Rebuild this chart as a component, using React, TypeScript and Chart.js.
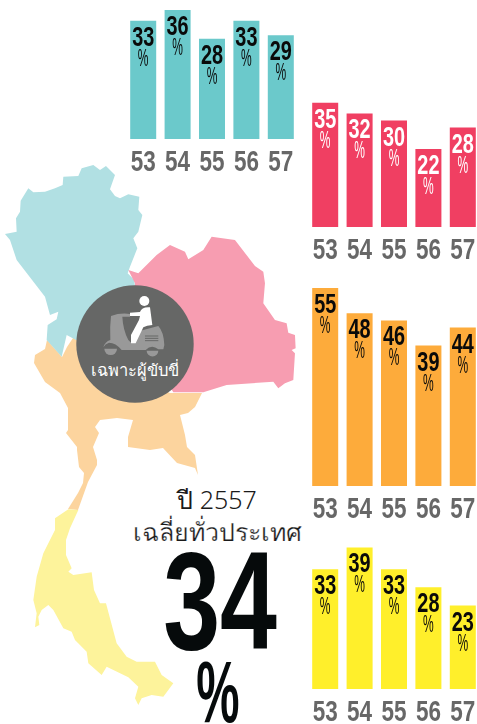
import React, { useEffect, useRef } from "react";
import { Chart, registerables } from "chart.js";

Chart.register(...registerables);

const years = ["53", "54", "55", "56", "57"];
const northValues = [33, 36, 28, 33, 29];
const northeastValues = [35, 32, 30, 22, 28];
const centralValues = [55, 48, 46, 39, 44];
const southValues = [33, 39, 33, 28, 23];
const nationalAverage = "34";

const narrow = '"Liberation Sans", Arial, sans-serif';
const thai = '"Noto Sans", "DejaVu Sans", sans-serif';

const valueLabels = {
  id: "valueLabels",
  afterDatasetsDraw(chart: any) {
    const color = chart.options.plugins.valueLabels.color;
    const { ctx } = chart;
    const meta = chart.getDatasetMeta(0);
    const xScale = chart.scales.x;
    const bottom = chart.chartArea.bottom;
    ctx.save();
    ctx.textAlign = "center";
    ctx.textBaseline = "alphabetic";
    meta.data.forEach((bar: any, i: number) => {
      const v = chart.data.datasets[0].data[i];
      ctx.fillStyle = color;
      ctx.save();
      ctx.translate(bar.x, bar.y + 25);
      ctx.scale(0.71, 1);
      ctx.font = `bold 28px ${narrow}`;
      ctx.fillText(String(v), 0, 0);
      ctx.restore();
      ctx.save();
      ctx.translate(bar.x, bar.y + 45);
      ctx.scale(0.5, 1);
      ctx.font = `24px ${narrow}`;
      ctx.fillText("%", 0, 0);
      ctx.restore();
    });
    xScale.ticks.forEach((t: any, i: number) => {
      ctx.save();
      ctx.translate(xScale.getPixelForTick(i), bottom + 32);
      ctx.scale(0.75, 1);
      ctx.fillStyle = "#676767";
      ctx.font = `bold 30px ${narrow}`;
      ctx.fillText(t.label, 0, 0);
      ctx.restore();
    });
    ctx.restore();
  },
};

function Bars(props: {
  values: number[]; color: string; labelColor: string; left: number; bottom: number;
  plotHeight: number; pxPerUnit: number;
}) {
  const ref = useRef<HTMLCanvasElement>(null);
  const axisHeight = 36;
  useEffect(() => {
    const chart = new Chart(ref.current!, {
      type: "bar",
      data: {
        labels: years,
        datasets: [{
          data: props.values,
          backgroundColor: props.color,
          barPercentage: 1,
          categoryPercentage: 0.756,
        }],
      },
      plugins: [valueLabels],
      options: {
        animation: false,
        responsive: false,
        maintainAspectRatio: false,
        layout: { padding: 0, autoPadding: false },
        plugins: {
          legend: { display: false },
          tooltip: { enabled: false },
          valueLabels: { color: props.labelColor },
        } as any,
        scales: {
          x: {
            grid: { display: false, drawTicks: false },
            border: { display: false },
            afterFit: (a: any) => { a.height = axisHeight; },
            ticks: { display: false, autoSkip: false, maxRotation: 0 },
          },
          y: {
            display: false,
            min: 0,
            max: props.plotHeight / props.pxPerUnit,
          },
        },
      } as any,
    });
    return () => chart.destroy();
  }, []);
  return (
    <canvas
      ref={ref}
      width={172}
      height={props.plotHeight + axisHeight}
      style={{
        position: "absolute",
        left: props.left,
        top: props.bottom - props.plotHeight,
        width: 172,
        height: props.plotHeight + axisHeight,
      }}
    />
  );
}

function Txt(props: { x: number; y: number; size: number; family: string; weight?: number; color: string; sx?: number; thin?: string; children: string }) {
  return (
    <div
      style={{
        position: "absolute",
        left: props.x,
        top: props.y,
        fontFamily: props.family,
        fontSize: props.size,
        fontWeight: props.weight ?? 400,
        color: props.color,
        lineHeight: 1,
        whiteSpace: "nowrap",
        transform: `translateX(-50%) scaleX(${props.sx ?? 1})`,
        WebkitTextStroke: props.thin ? `0.25px ${props.thin}` : undefined,
      }}
    >
      {props.children}
    </div>
  );
}

const tealMap = "15,222 50,215 48,175 60,155 62,122 85,85 100,97 135,95 165,85 188,75 190,50 235,48 245,25 280,15 300,30 318,18 345,45 330,88 345,108 360,115 385,103 418,110 415,150 427,165 415,215 400,235 412,265 390,320 383,340 403,360 405,380 300,550 228,540 200,525 185,590 140,540 143,495 170,478 175,455 150,465 135,410 50,300 30,240";
const pinkMap = "385,330 415,340 470,285 510,255 555,275 565,298 610,270 635,230 705,240 765,318 790,335 795,370 790,430 825,480 860,490 865,518 885,525 887,565 875,570 885,580 880,660 855,670 835,685 820,665 680,675 610,697 520,697 400,500 405,370";
const orangeMap = "47,340 45,349 35,355 34,363 45,382 60,393 68,408 68,430 66,433 77,447 77,450 79,467 84,473 83,483 78,493 68,509 78,510 88,482 97,465 97,460 93,447 99,433 95,427 100,420 117,418 133,420 128,437 128,447 150,450 163,448 177,463 195,468 198,475 195,455 187,447 185,435 180,415 188,413 195,407 202,393 170,393 100,360 75,335 67,347 62,357";
const yellowMap = "145,208 175,210 150,265 138,300 138,345 155,385 145,395 160,405 215,397 222,450 240,490 258,490 290,610 320,650 350,665 405,665 425,705 460,730 430,770 395,765 365,775 355,795 345,775 355,740 325,712 260,680 245,705 205,670 200,635 165,600 155,575 130,565 100,510 85,495 65,510 55,530 58,555 45,562 50,520 40,480 50,410 70,340 85,310 105,270 105,235";

function MapBackdrop() {
  return (
    <svg width={477} height={724} style={{ position: "absolute", left: 0, top: 0 }}>
      <polygon points={orangeMap} fill="#FCD49E" />
      <g transform="translate(0,160) scale(0.3333)">
        <polygon points={tealMap} fill="#B1E0E3" />
        <polygon points={pinkMap} fill="#F79DB1" />
      </g>
      <g transform="translate(20,440) scale(0.3333)">
        <polygon points={yellowMap} fill="#FDF39B" />
      </g>
      <circle cx={135} cy={344} r={58.7} fill="#666766" />
      <g transform="translate(95,290) scale(0.3333)">
        <path d="M48 78 Q75 68 105 72 L105 80 L82 80 Q84 120 100 150 L110 160 L125 125 L190 108 Q206 125 208 165 L205 178 L190 178 Q170 162 152 180 L80 180 Q62 158 42 158 Q30 162 25 172 Q30 155 46 150 Q44 110 48 78Z" fill="#999" />
        <path d="M28 176 A19 19 0 0 0 66 176Z" fill="#999" />
        <path d="M155 182 A17 17 0 0 0 190 182Z" fill="#999" />
        <path d="M150 138 H190 M150 145 H190 M150 152 H190" stroke="#666766" strokeWidth={3} />
        <circle cx={148} cy={33} r={15} fill="#fff" />
        <path d="M105 68 L135 66 Q140 50 165 52 L172 105 Q155 106 145 112 L122 160 L108 160 L108 135 L132 90 L135 78 L105 78Z" fill="#fff" />
      </g>
    </svg>
  );
}

export default function App() {
  return (
    <div style={{ position: "absolute", left: 0, top: 0, width: 477, height: 724, overflow: "hidden", background: "#fff" }}>
      <MapBackdrop />
      <Bars values={northValues} color="#6BC9CB" labelColor="#0a0a0a" left={126} bottom={139} plotHeight={139} pxPerUnit={3.58} />
      <Bars values={northeastValues} color="#F03F62" labelColor="#ffffff" left={308} bottom={227} plotHeight={130} pxPerUnit={3.55} />
      <Bars values={centralValues} color="#FDAB3B" labelColor="#0a0a0a" left={308} bottom={486} plotHeight={205} pxPerUnit={3.6} />
      <Bars values={southValues} color="#FFEF2B" labelColor="#0a0a0a" left={308} bottom={689} plotHeight={150} pxPerUnit={3.63} />
      <Txt x={135} y={362} size={16.5} family={thai} color="#ffffff">เฉพาะผู้ขับขี่</Txt>
      <Txt x={217} y={487} size={25} family={thai} weight={300} color="#1a1a1a">ปี 2557</Txt>
      <Txt x={217} y={519} size={25} family={thai} weight={300} color="#1a1a1a" thin="#ffffff">เฉลี่ยทั่วประเทศ</Txt>
      <Txt x={220} y={531} size={140} family={narrow} weight={700} color="#060a0b" sx={0.73}>{nationalAverage}</Txt>
      <Txt x={218} y={648} size={87} family={narrow} weight={700} color="#060a0b" sx={0.56}>%</Txt>
    </div>
  );
}
